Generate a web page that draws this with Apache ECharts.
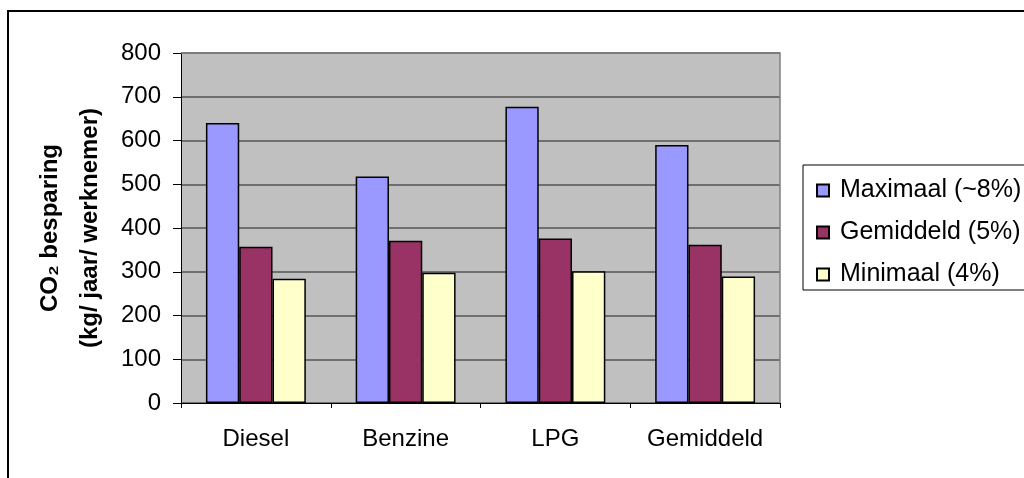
<!DOCTYPE html>
<html>
<head>
<meta charset="utf-8">
<script src="https://cdn.jsdelivr.net/npm/echarts@6/dist/echarts.min.js"></script>
<style>
html,body{margin:0;padding:0;background:#fff;}
#c{width:1024px;height:478px;}
</style>
</head>
<body>
<div id="c"></div>
<script>
var categories = ['Diesel', 'Benzine', 'LPG', 'Gemiddeld'];
var seriesNames = ['Maximaal (~8%)', 'Gemiddeld (5%)', 'Minimaal (4%)'];
var maximaal = [640, 518, 677, 590];
var gemiddeld = [357, 371, 376, 362];
var minimaal = [284, 298, 301, 289];
var yTicks = [0, 100, 200, 300, 400, 500, 600, 700, 800];
var colors = ['#9999ff', '#993366', '#ffffcc'];

var FONT = '"Liberation Sans", Arial, sans-serif';
var chart = echarts.init(document.getElementById('c'), null, {renderer: 'canvas'});
var values = [maximaal, gemiddeld, minimaal];

chart.setOption({
  animation: false,
  backgroundColor: '#ffffff',
  textStyle: {fontFamily: FONT},
  graphic: [
    {type: 'rect', shape: {x: 8, y: 11, width: 1040, height: 500},
     style: {fill: 'none', stroke: '#000', lineWidth: 2}, z: 100},
    {type: 'rect', shape: {x: 803, y: 165, width: 240, height: 125},
     style: {fill: '#fff', stroke: '#000', lineWidth: 1}, z: 0},
    {type: 'polyline', shape: {points: [[181, 53], [780, 53], [780, 403]]},
     style: {stroke: '#808080', lineWidth: 1.5, fill: 'none'}, z: 10}
  ],
  legend: {
    orient: 'vertical',
    left: 811,
    top: 173,
    itemWidth: 12,
    itemHeight: 12,
    itemGap: 17,
    icon: 'rect',
    data: seriesNames,
    textStyle: {fontSize: 25, color: '#000', fontFamily: FONT, padding: [0, 0, 0, 6]}
  },
  grid: {left: 181, right: 244, top: 53, bottom: 75, show: true, backgroundColor: '#c0c0c0', borderWidth: 0},
  xAxis: {
    type: 'category',
    data: categories,
    axisLine: {show: true, lineStyle: {color: '#000', width: 1}},
    axisTick: {show: true, length: 5, interval: 0, lineStyle: {color: '#000'}},
    axisLabel: {fontSize: 24, color: '#000', margin: 24, fontFamily: FONT, interval: 0, hideOverlap: false}
  },
  yAxis: {
    type: 'value',
    min: 0,
    max: 800,
    interval: 100,
    name: 'CO\u2082 besparing\n(kg/ jaar/ werknemer)',
    nameLocation: 'middle',
    nameGap: 69,
    nameRotate: 90,
    nameTextStyle: {fontSize: 24, fontWeight: 'bold', color: '#000', lineHeight: 40, fontFamily: FONT},
    axisLine: {show: true, lineStyle: {color: '#000', width: 1}},
    axisTick: {show: true, length: 8, lineStyle: {color: '#000'}},
    axisLabel: {fontSize: 24, color: '#000', margin: 20, fontFamily: FONT,
      formatter: function (v) { return yTicks.indexOf(v) >= 0 ? String(v) : ''; }},
    splitLine: {show: true, lineStyle: {color: '#555', width: 1.5}}
  },
  series: values.map(function (arr, i) {
    return {
      name: seriesNames[i],
      type: 'bar',
      data: arr,
      barGap: '0%',
      barCategoryGap: '33.3%',
      itemStyle: {color: colors[i], borderColor: '#000', borderWidth: 1.5},
      z: 5
    };
  })
});
</script>
</body>
</html>
